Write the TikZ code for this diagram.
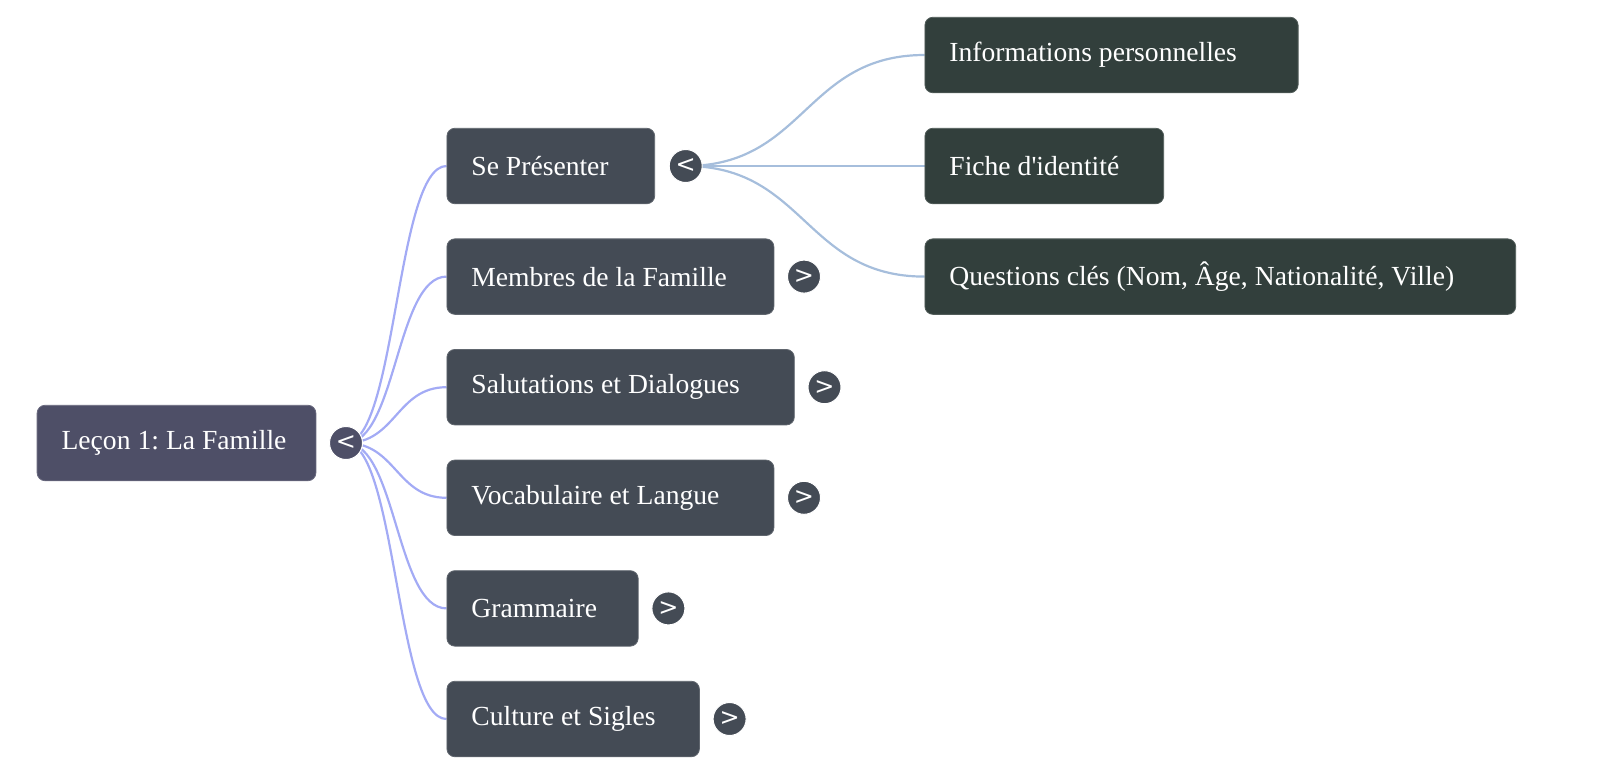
\documentclass[tikz,border=0pt]{standalone}
\usepackage{fontspec}
\setmainfont{Liberation Serif}
\newfontfamily\arrowfont{DejaVu Sans}
\usetikzlibrary{calc,backgrounds}
\definecolor{rootfill}{HTML}{4E4F67}
\definecolor{lonefill}{HTML}{444B55}
\definecolor{ltwofill}{HTML}{323F3C}
\definecolor{rootedge}{HTML}{A3ABF5}
\definecolor{ltwoedge}{HTML}{A6BEDC}
\newcommand{\boxfont}{\fontsize{13.8pt}{16pt}\selectfont\frenchspacing}
\newcommand{\tight}[1]{{\spaceskip=3.5pt\xspaceskip=3.5pt\mbox{#1}}}
\tikzset{
  box/.style={anchor=west, rounded corners=4pt, text=white, align=left,
    inner xsep=12.25pt, inner ysep=0pt, minimum height=37.75pt,
    font=\boxfont},
  rootbox/.style={box, fill=rootfill, draw=rootfill!85!white, line width=0.4pt},
  lonebox/.style={box, fill=lonefill, draw=lonefill!85!white, line width=0.4pt},
  ltwobox/.style={box, fill=ltwofill, draw=ltwofill!85!white, line width=0.4pt},
  knob/.style={circle, minimum size=16.5pt, inner sep=0pt, text=white,
    draw=white, line width=0.5pt, font=\arrowfont\fontsize{12pt}{12pt}\selectfont},
  rootlink/.style={draw=rootedge, line width=1.1pt},
  ltwolink/.style={draw=ltwoedge, line width=1.1pt},
}
\begin{document}
\begin{tikzpicture}[x=0.5pt,y=-0.5pt]
\useasboundingbox (0,0) rectangle (1600,776);
% root
\node[rootbox, text width=114.9pt] (root) at (36.7,443) {\tight{Leçon 1: La Famille}};
\node[knob, fill=rootfill] (k0) at (346,443) {<};
% level 1
\node[lonebox, text width=79.4pt] (b1) at (446.5,166) {\tight{Se Présenter}};
\node[knob, fill=lonefill] (k1) at (685.7,166) {<};
\node[lonebox, text width=139pt] (b2) at (446.5,276.6) {\tight{Membres de la Famille}};
\node[knob, fill=lonefill] (k2) at (804,276.6) {>};
\node[lonebox, text width=149.2pt] (b3) at (446.5,387.2) {\tight{Salutations et Dialogues}};
\node[knob, fill=lonefill] (k3) at (824.5,387.2) {>};
\node[lonebox, text width=139pt] (b4) at (446.5,497.8) {\tight{Vocabulaire et Langue}};
\node[knob, fill=lonefill] (k4) at (804,497.8) {>};
\node[lonebox, text width=71.15pt] (b5) at (446.5,608.4) {\tight{Grammaire}};
\node[knob, fill=lonefill] (k5) at (668.4,608.4) {>};
\node[lonebox, text width=101.75pt] (b6) at (446.5,719) {\tight{Culture et Sigles}};
\node[knob, fill=lonefill] (k6) at (729.6,719) {>};
% level 2
\node[ltwobox, text width=162.1pt] (c1) at (924.5,55) {\tight{Informations personnelles}};
\node[ltwobox, text width=94.9pt] (c2) at (924.5,166) {\tight{Fiche d\textquotesingle identité}};
\node[ltwobox, text width=270.9pt] (c3) at (924.5,276.6) {\tight{Questions clés (Nom, Âge, Nationalité, Ville)}};
% links
\begin{scope}[on background layer]
\foreach \t in {b1,b2,b3,b4,b5,b6}{
  \draw[rootlink] let \p1=(k0.center), \p2=(\t.west) in
    (\p1) .. controls (\x1/2+\x2/2,\y1) and (\x1/2+\x2/2,\y2) .. (\p2);
}
\foreach \t in {c1,c2,c3}{
  \draw[ltwolink] let \p1=(k1.center), \p2=(\t.west) in
    (\p1) .. controls (\x1/2+\x2/2,\y1) and (\x1/2+\x2/2,\y2) .. (\p2);
}
\end{scope}
\end{tikzpicture}
\end{document}
